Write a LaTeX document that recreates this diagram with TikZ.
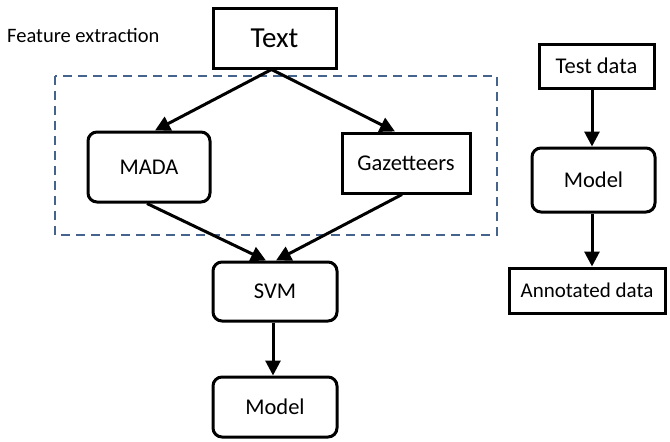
\documentclass[tikz,border=0pt]{standalone}
\usepackage{fontspec}
\setmainfont{Carlito}
\usetikzlibrary{arrows.meta}
\definecolor{dashblue}{HTML}{44648C}
\tikzset{
  x=1pt, y=-1pt,
  sharpbox/.style={draw, line width=3pt, minimum width=#1, inner sep=0pt},
  roundbox/.style={draw, line width=3pt, rounded corners=9pt, minimum width=#1, inner sep=0pt},
  lbl/.style={font=\fontsize{22.5}{26}\selectfont},
  flow/.style={line width=3pt, -{Triangle[width=15pt,length=15pt]}},
}
\begin{document}
\begin{tikzpicture}
\useasboundingbox (0,0) rectangle (670,442);

% feature-extraction group
\draw[dashblue, line width=1.8pt, dash pattern=on 9pt off 6pt] (55,76) rectangle (497,235);
\node[font=\fontsize{20.5}{24}\selectfont, anchor=west, inner sep=0pt] (fe) at (7,35) {Feature extraction};

% training pipeline
\node[sharpbox=123pt, minimum height=60pt, font=\fontsize{29}{34}\selectfont] (text) at (274.5,38) {Text};
\node[roundbox=122pt, minimum height=70pt, lbl] (mada) at (149,167) {MADA};
\node[sharpbox=128pt, minimum height=60pt, lbl] (gaz) at (406,163) {Gazetteers};
\node[roundbox=124pt, minimum height=59pt, lbl] (svm) at (275,291.5) {SVM};
\node[roundbox=124pt, minimum height=60pt, lbl] (model) at (275,407) {Model};

\draw[flow] ([xshift=-3pt]text.south) -- ([xshift=6pt]mada.north);
\draw[flow] ([xshift=-3pt]text.south) -- ([xshift=-11pt]gaz.north);
\draw[flow] ([xshift=-2pt]mada.south) -- ([xshift=-9pt]svm.north);
\draw[flow] ([xshift=-4pt]gaz.south) -- ([xshift=1pt]svm.north);
\draw[flow] ([xshift=-2pt]svm.south) -- ([xshift=-2pt]model.north);

% annotation pipeline
\node[sharpbox=115pt, minimum height=44pt, lbl] (test) at (596.5,66) {Test data};
\node[roundbox=123pt, minimum height=64pt, lbl] (model2) at (593.5,180) {Model};
\node[sharpbox=156pt, minimum height=45pt, font=\fontsize{21}{24}\selectfont] (annot) at (587,290.5) {Annotated data};

\draw[flow] (test.south -| 592,0) -- (model2.north -| 592,0);
\draw[flow] (model2.south -| 592,0) -- (annot.north -| 592,0);
\end{tikzpicture}
\end{document}
